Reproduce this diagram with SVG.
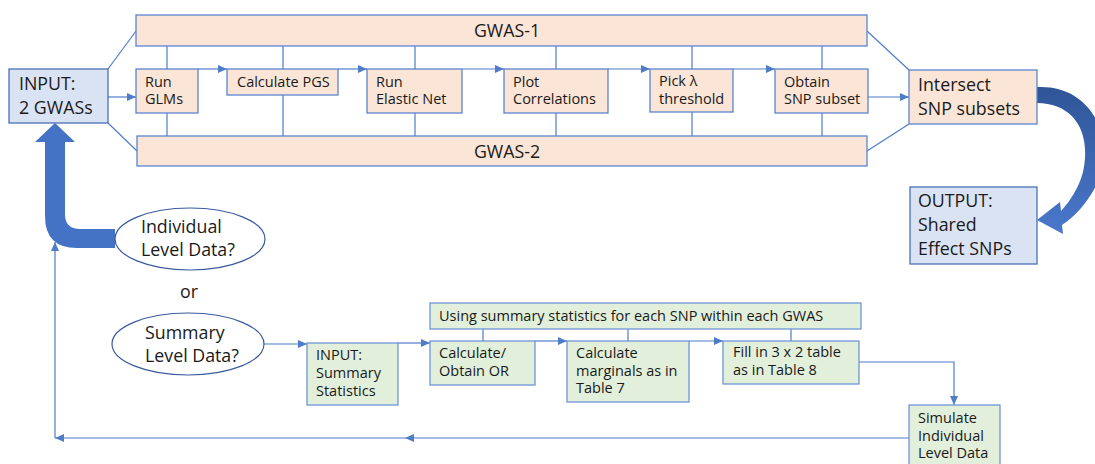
<svg xmlns="http://www.w3.org/2000/svg" width="1095" height="464" viewBox="0 0 1095 464">
<style>
text{font-family:"Open Sans","Liberation Sans",sans-serif;fill:#1a1a1a}
.s{font-size:14.5px}
.l{font-size:17.8px}
.peach{fill:#fbe5d6;stroke:#5b84d0;stroke-width:1.3}
.blue{fill:#dae3f3;stroke:#4a70b8;stroke-width:1.3}
.green{fill:#e2efda;stroke:#6f95d8;stroke-width:1.3}
.ell{fill:#fff;stroke:#3a5a9c;stroke-width:1.2}
.c{fill:none;stroke:#4f7cc8;stroke-width:1.2}
.ca{fill:none;stroke:#4f7cc8;stroke-width:1.2;marker-end:url(#ah)}
</style>
<defs>
<marker id="ah" markerUnits="userSpaceOnUse" markerWidth="10" markerHeight="8" refX="9" refY="4" orient="auto">
<path d="M0,0 L9,4 L0,8 Z" fill="#4f7cc8"/>
</marker>
<linearGradient id="g" x1="0" y1="0" x2="0" y2="1">
<stop offset="0" stop-color="#2f5597"/>
<stop offset="1" stop-color="#4a78cc"/>
</linearGradient>
</defs>

<g id="connectors">
<path class="c" d="M108,69 L136,31"/>
<path class="c" d="M108,123 L137,151"/>
<path class="c" d="M867,31 L909,70"/>
<path class="c" d="M867,151 L909,124"/>
<path class="ca" d="M108,97 H136"/>
<path class="ca" d="M868,97 H909"/>
<path class="c" d="M167,46 V69 M167,113 V136"/>
<path class="c" d="M283,46 V69 M283,95 V136"/>
<path class="c" d="M415,46 V69 M415,113 V136"/>
<path class="c" d="M556,46 V69 M556,113 V136"/>
<path class="c" d="M692,46 V69 M692,112 V136"/>
<path class="c" d="M822,46 V69 M822,113 V136"/>
<path class="ca" d="M198,69 H227"/>
<path class="ca" d="M338,69 H367"/>
<path class="ca" d="M462,69 H504"/>
<path class="ca" d="M608,69 H650"/>
<path class="ca" d="M733,69 H775"/>
<path class="ca" d="M264,344 H307"/>
<path class="ca" d="M398,343 H430"/>
<path class="c" d="M483,329 V341 M628,329 V341 M791,329 V341"/>
<path class="ca" d="M535,341 H567"/>
<path class="ca" d="M689,341 H723"/>
<path class="ca" d="M859,362 H954 V405"/>
<path class="ca" d="M909,438 H405"/>
<path class="ca" d="M405,438 H55"/>
<path class="ca" d="M55,438 V242"/>
<path fill="#4472c4" d="M115,229 H80 Q65,229 65,214 V142 H75 L55,123 L35,142 H45 V216 Q45,248 77,248 H115 Z"/>
<path fill="url(#g)" d="M1037,87 C1092,84 1118,140 1096,186 C1087,203 1075,217 1062,225 L1063,234 L1037,220 L1060,202 L1061,211 C1071,200 1079,187 1083,172 C1092,130 1072,103 1037,103 Z"/>
</g>

<g id="gwas1"><rect class="peach" x="136" y="15" width="731" height="31"/><text class="l" x="507" y="37" text-anchor="middle">GWAS-1</text></g>
<g id="gwas2"><rect class="peach" x="137" y="136" width="730" height="30"/><text class="l" x="507" y="158" text-anchor="middle">GWAS-2</text></g>
<g id="input"><rect class="blue" x="9" y="69" width="99" height="54"/><text class="l" x="19" y="90">INPUT:</text><text class="l" x="19" y="114">2 GWASs</text></g>
<g id="runglms"><rect class="peach" x="136" y="69" width="62" height="44"/><text class="s" x="145" y="87">Run</text><text class="s" x="145" y="104">GLMs</text></g>
<g id="calcpgs"><rect class="peach" x="227" y="69" width="111" height="26"/><text class="s" x="237" y="87">Calculate PGS</text></g>
<g id="elastic"><rect class="peach" x="367" y="69" width="95" height="44"/><text class="s" x="376" y="87">Run</text><text class="s" x="376" y="104">Elastic Net</text></g>
<g id="plot"><rect class="peach" x="504" y="69" width="104" height="44"/><text class="s" x="513" y="87">Plot</text><text class="s" x="513" y="104">Correlations</text></g>
<g id="pick"><rect class="peach" x="650" y="69" width="83" height="43"/><text class="s" x="659" y="86">Pick λ</text><text class="s" x="659" y="104">threshold</text></g>
<g id="obtain"><rect class="peach" x="775" y="69" width="93" height="44"/><text class="s" x="784" y="87">Obtain</text><text class="s" x="784" y="104">SNP subset</text></g>
<g id="intersect"><rect class="peach" x="909" y="70" width="128" height="54"/><text class="l" x="918" y="91">Intersect</text><text class="l" x="918" y="115">SNP subsets</text></g>
<g id="output"><rect class="blue" x="910" y="187" width="127" height="77"/><text class="l" x="918" y="207">OUTPUT:</text><text class="l" x="918" y="231">Shared</text><text class="l" x="918" y="255">Effect SNPs</text></g>
<g id="individual"><ellipse class="ell" cx="190" cy="239" rx="75" ry="31"/><text class="l" x="141" y="233">Individual</text><text class="l" x="141" y="256">Level Data?</text></g>
<g id="or"><text class="l" x="180" y="298">or</text></g>
<g id="summary"><ellipse class="ell" cx="188" cy="344" rx="76" ry="31"/><text class="l" x="145" y="339">Summary</text><text class="l" x="145" y="362">Level Data?</text></g>
<g id="inputsum"><rect class="green" x="307" y="343" width="91" height="62"/><text class="s" x="316" y="360">INPUT:</text><text class="s" x="316" y="378">Summary</text><text class="s" x="316" y="396">Statistics</text></g>
<g id="using"><rect class="green" x="430" y="303" width="431" height="26"/><text class="s" x="439" y="321">Using summary statistics for each SNP within each GWAS</text></g>
<g id="calcor"><rect class="green" x="430" y="341" width="105" height="44"/><text class="s" x="439" y="358">Calculate/</text><text class="s" x="439" y="376">Obtain OR</text></g>
<g id="marginals"><rect class="green" x="567" y="341" width="122" height="61"/><text class="s" x="576" y="358">Calculate</text><text class="s" x="576" y="376">marginals as in</text><text class="s" x="576" y="393">Table 7</text></g>
<g id="fill"><rect class="green" x="723" y="341" width="136" height="43"/><text class="s" x="733" y="357">Fill in 3 x 2 table</text><text class="s" x="733" y="375">as in Table 8</text></g>
<g id="simulate"><rect class="green" x="909" y="405" width="91" height="62"/><text class="s" x="918" y="423">Simulate</text><text class="s" x="918" y="441">Individual</text><text class="s" x="918" y="458">Level Data</text></g>
</svg>
